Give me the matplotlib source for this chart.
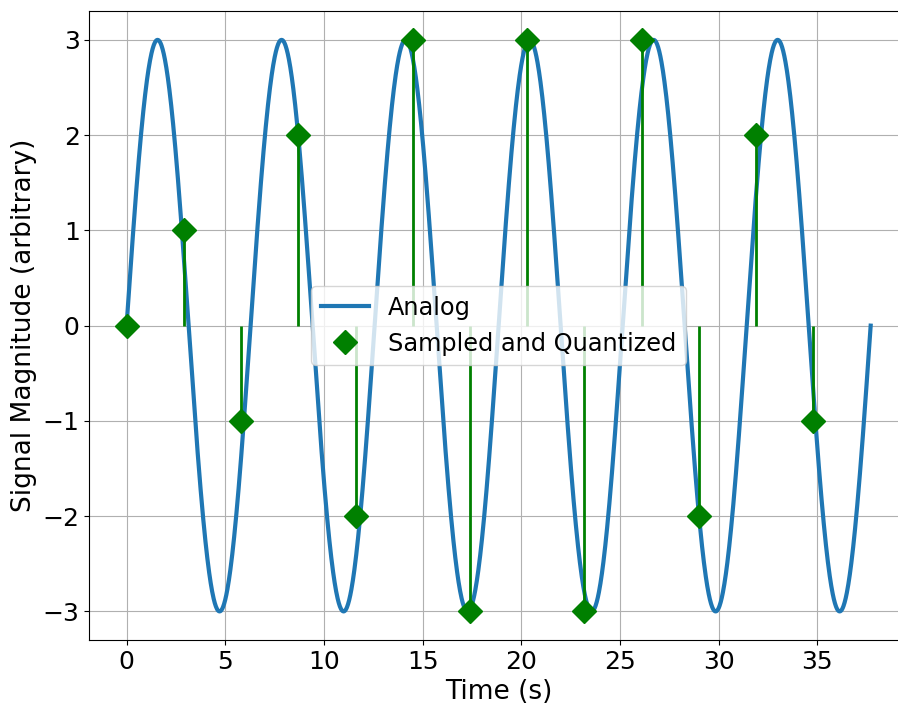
import numpy as np
import matplotlib.pyplot as plt

# analog signal: amplitude 3, six full cycles
amplitude = 3
n_cycles = 6
t_end = 2 * np.pi * n_cycles

# sample instants and quantized values
n_samples = 13
sample_values = [0, 1, -1, 2, -2, 3, -3, 3, -3, 3, -2, 2, -1]

t = np.linspace(0, t_end, 2000)
analog = amplitude * np.sin(t)
t_samples = np.arange(n_samples) * t_end / n_samples

plt.rcParams["font.size"] = 18
fig, ax = plt.subplots(figsize=(8.98, 7.06), dpi=100)
ax.plot(t, analog, lw=3, color="#1f77b4", label="Analog")
ax.vlines(t_samples, 0, sample_values, color="green", lw=2)
ax.plot(t_samples, sample_values, "D", color="green", ms=12,
        label="Sampled and Quantized")
ax.grid(True)
ax.set_xlabel("Time (s)", fontsize=19)
ax.set_ylabel("Signal Magnitude (arbitrary)", fontsize=19)
ax.legend(loc="center", fontsize=17.3)
# the original figure is cropped on the right, so the axes run past the edge
ax.spines["right"].set_visible(False)
fig.subplots_adjust(left=0.0995, right=1.011, top=0.984, bottom=0.0935)
fig.savefig("out.png")
